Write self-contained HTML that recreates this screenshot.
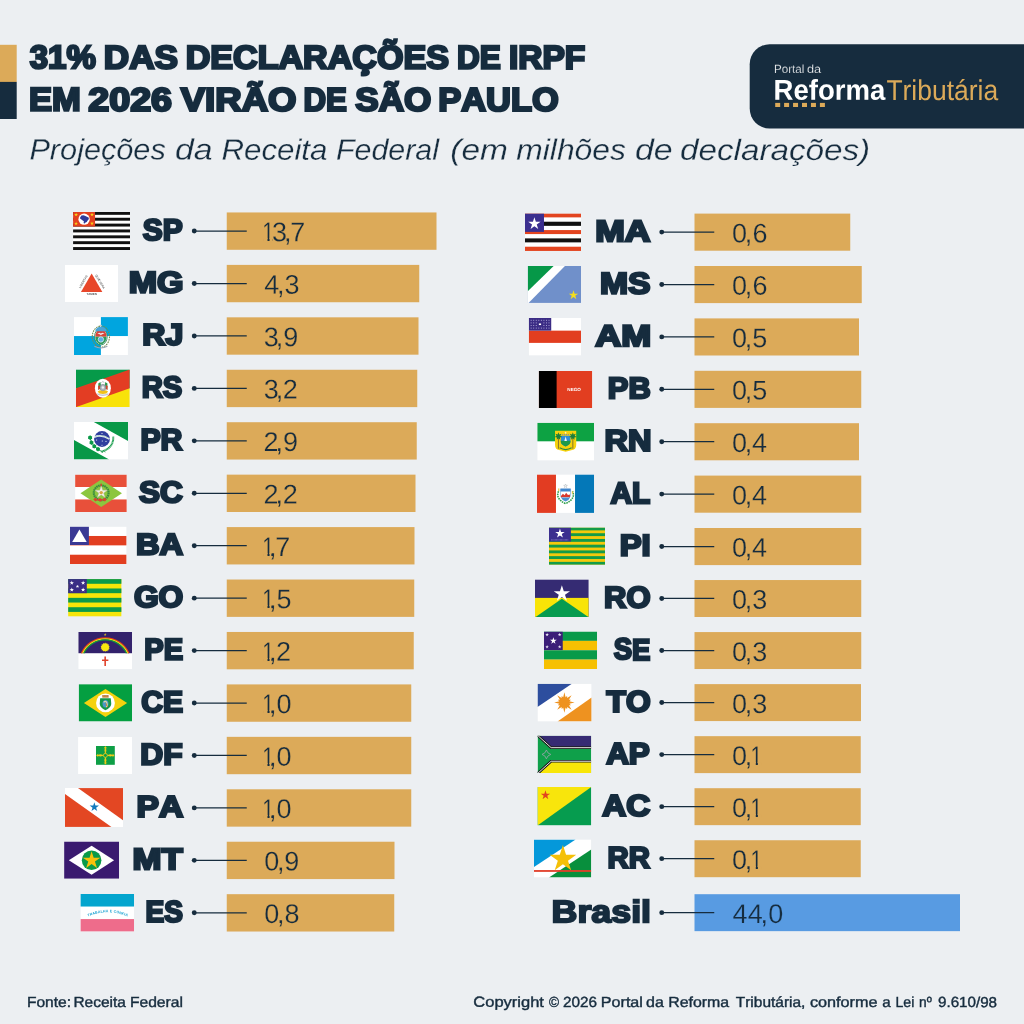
<!DOCTYPE html>
<html lang="pt-BR">
<head>
<meta charset="utf-8">
<title>31% das declarações de IRPF em 2026 virão de São Paulo</title>
<style>
html,body{margin:0;padding:0;background:#ECEFF2;}
body{width:1024px;height:1024px;overflow:hidden;}
svg{display:block;}
text{font-family:"Liberation Sans",sans-serif;font-kerning:none;text-rendering:geometricPrecision;}
.hv{font-weight:700;fill:#162C3E;stroke:#162C3E;stroke-linejoin:miter;stroke-miterlimit:2.5;}
.ttl{font-size:32.7px;stroke-width:2.4px;}
.lab{font-size:29.8px;stroke-width:2.4px;}
.num{fill:#162C3E;font-size:27px;stroke-width:0.25px;}
.sub{font-style:italic;font-size:29.3px;fill:#162C3E;stroke:#ECEFF2;stroke-width:0.25px;}
.lg1{font-size:11.9px;fill:#fff;stroke:#162C3E;stroke-width:0.25px;}
.lg2{font-size:28.6px;font-weight:700;fill:#fff;}
.lg3{font-size:28.6px;fill:#DCAA59;}
.ftr{font-size:14.6px;fill:#162C3E;stroke:#162C3E;stroke-width:0.4px;}
</style>
</head>
<body>
<svg width="1024" height="1024" viewBox="0 0 1024 1024">
<rect x="0" y="0" width="1024" height="1024" fill="#ECEFF2"/>
<rect x="0" y="44.8" width="16.7" height="37.2" fill="#DCAA59"/><rect x="0" y="81.9" width="16.7" height="37.1" fill="#162C3E"/>
<text class="hv ttl" y="68.5" transform="rotate(0.03 307.25 68.5)"><tspan x="29.74" textLength="66.13" lengthAdjust="spacingAndGlyphs">31%</tspan> <tspan x="103.85" textLength="74.12" lengthAdjust="spacingAndGlyphs">DAS</tspan> <tspan x="185.72" textLength="263.21" lengthAdjust="spacingAndGlyphs">DECLARAÇÕES</tspan> <tspan x="456.89" textLength="43.84" lengthAdjust="spacingAndGlyphs">DE</tspan> <tspan x="508.96" textLength="76.27" lengthAdjust="spacingAndGlyphs">IRPF</tspan></text>
<text class="hv ttl" y="110.75" transform="rotate(0.03 294.22 110.75)"><tspan x="28.94" textLength="51.77" lengthAdjust="spacingAndGlyphs">EM</tspan> <tspan x="88.3" textLength="83.66" lengthAdjust="spacingAndGlyphs">2026</tspan> <tspan x="180.75" textLength="115.68" lengthAdjust="spacingAndGlyphs">VIRÃO</tspan> <tspan x="303.51" textLength="43.41" lengthAdjust="spacingAndGlyphs">DE</tspan> <tspan x="355.39" textLength="75.93" lengthAdjust="spacingAndGlyphs">SÃO</tspan> <tspan x="438.25" textLength="120.4" lengthAdjust="spacingAndGlyphs">PAULO</tspan></text>
<text class="sub" y="159.75" transform="rotate(0.03 449.25 159.75)"><tspan x="29.43" textLength="136.32" lengthAdjust="spacingAndGlyphs">Projeções</tspan> <tspan x="174.99" textLength="37.54" lengthAdjust="spacingAndGlyphs">da</tspan> <tspan x="221.41" textLength="106.03" lengthAdjust="spacingAndGlyphs">Receita</tspan> <tspan x="335.94" textLength="103" lengthAdjust="spacingAndGlyphs">Federal</tspan> <tspan x="450.31" textLength="57.62" lengthAdjust="spacingAndGlyphs">(em</tspan> <tspan x="516.35" textLength="109.43" lengthAdjust="spacingAndGlyphs">milhões</tspan> <tspan x="634.98" textLength="37.65" lengthAdjust="spacingAndGlyphs">de</tspan> <tspan x="680.01" textLength="190.1" lengthAdjust="spacingAndGlyphs">declarações)</tspan></text>
<path d="M769.7 44.2 H1024 V128.5 H769.7 A20 20 0 0 1 749.7 108.5 V64.2 A20 20 0 0 1 769.7 44.2 Z" fill="#162C3E"/>
<text class="lg1" y="73" transform="rotate(0.03 798.05 73)"><tspan x="774.02" textLength="30.38" lengthAdjust="spacingAndGlyphs">Portal</tspan> <tspan x="806.94" textLength="14.19" lengthAdjust="spacingAndGlyphs">da</tspan></text>
<text class="lg2" y="99.75" transform="rotate(0.03 830.4 99.75)"><tspan x="773.56" textLength="111.67" lengthAdjust="spacingAndGlyphs">Reforma</tspan></text>
<text class="lg3" y="100" transform="rotate(0.03 942.55 100)"><tspan x="886.41" textLength="111.69" lengthAdjust="spacingAndGlyphs">Tributária</tspan></text>
<g fill="#DCAA59"><rect x="775.2" y="102.9" width="5" height="4.1"/><rect x="784.1" y="102.9" width="5" height="4.1"/><rect x="793.05" y="102.9" width="5" height="4.1"/><rect x="802" y="102.9" width="5" height="4.1"/><rect x="810.95" y="102.9" width="5" height="4.1"/><rect x="819.9" y="102.9" width="5" height="4.1"/></g>
<g>
<rect x="226.75" y="212.45" width="209.75" height="37.35" fill="#DCAA59"/>
<path d="M194.25 231.07 H246.75" stroke="#162C3E" stroke-width="1.25" fill="none"/><circle cx="194.25" cy="231.07" r="2.45" fill="#162C3E"/>
<svg x="73.1" y="211.9" width="57" height="38.1" viewBox="0 0 57 38.1" overflow="hidden"><rect x="0" y="0" width="57" height="38.1" fill="#fff"/><rect x="0" y="0" width="57" height="2.93" fill="#111"/><rect x="0" y="5.86" width="57" height="2.93" fill="#111"/><rect x="0" y="11.72" width="57" height="2.93" fill="#111"/><rect x="0" y="17.58" width="57" height="2.93" fill="#111"/><rect x="0" y="23.45" width="57" height="2.93" fill="#111"/><rect x="0" y="29.31" width="57" height="2.93" fill="#111"/><rect x="0" y="35.17" width="57" height="2.93" fill="#111"/><rect x="0" y="0" width="21.95" height="14.65" fill="#E2401F"/><circle cx="11" cy="7.25" r="5.65" fill="#fff"/><polygon points="7.06,5.5 8.3,3.6 10.2,3.3 11.75,3.9 13.3,4.55 15.5,5.5 15.8,7.06 14.55,8.6 13.6,10.2 12.05,10.8 11.1,11.9 10.5,10.8 10.8,9.25 9.25,8.3 7.7,7.06 6.75,6.4" fill="#2E3A9A"/><polygon points="3,0.8 3.45,2.18 4.9,2.18 3.73,3.04 4.18,4.42 3,3.56 1.82,4.42 2.27,3.04 1.1,2.18 2.55,2.18" fill="#F7D417"/><polygon points="18.9,0.8 19.35,2.18 20.8,2.18 19.63,3.04 20.08,4.42 18.9,3.56 17.72,4.42 18.17,3.04 17,2.18 18.45,2.18" fill="#F7D417"/><polygon points="3,9.7 3.45,11.08 4.9,11.08 3.73,11.94 4.18,13.32 3,12.46 1.82,13.32 2.27,11.94 1.1,11.08 2.55,11.08" fill="#F7D417"/><polygon points="18.9,9.5 19.35,10.88 20.8,10.88 19.63,11.74 20.08,13.12 18.9,12.26 17.72,13.12 18.17,11.74 17,10.88 18.45,10.88" fill="#F7D417"/></svg>
<text class="hv lab" y="240" transform="rotate(0.03 162.6 240)"><tspan x="142.74" textLength="39.88" lengthAdjust="spacingAndGlyphs">SP</tspan></text>
<text class="num" y="241.25" stroke="#DCAA59" transform="rotate(0.03 279.8 241.25)"><tspan x="262.29" textLength="11.71" lengthAdjust="spacingAndGlyphs">1</tspan><tspan x="271.92">3</tspan><tspan x="283.92">,</tspan><tspan x="290.27">7</tspan></text><rect x="263.2" y="238.53" width="4.29" height="3.62" fill="#DCAA59"/><rect x="269.55" y="238.53" width="3.2" height="3.62" fill="#DCAA59"/>
</g>
<g>
<rect x="226.75" y="264.89" width="192.5" height="37.35" fill="#DCAA59"/>
<path d="M194.25 283.51 H246.75" stroke="#162C3E" stroke-width="1.25" fill="none"/><circle cx="194.25" cy="283.51" r="2.45" fill="#162C3E"/>
<svg x="65" y="265" width="53.1" height="37.1" viewBox="0 0 53.1 37.1" overflow="hidden"><rect x="0" y="0" width="53.1" height="37.1" fill="#fff"/><polygon points="26.65,8.6 15.95,27 37.35,27" fill="#E8472A"/><text transform="translate(19.05,17.2) rotate(-60)" font-family="Liberation Sans, sans-serif" font-size="2.9" font-weight="700" fill="#666" text-anchor="middle">LIBERTAS</text><text transform="translate(34.25,17.2) rotate(60)" font-family="Liberation Sans, sans-serif" font-size="2.9" font-weight="700" fill="#666" text-anchor="middle">QUÆ SERA</text><text x="26.65" y="30.2" font-family="Liberation Sans, sans-serif" font-size="2.9" font-weight="700" fill="#555" text-anchor="middle">TAMEN</text></svg>
<text class="hv lab" y="292.5" transform="rotate(0.03 156.2 292.5)"><tspan x="128.72" textLength="54.78" lengthAdjust="spacingAndGlyphs">MG</tspan></text>
<text class="num" y="293.75" stroke="#DCAA59" transform="rotate(0.03 279.8 293.75)"><tspan x="264.18">4</tspan><tspan x="277.07">,</tspan><tspan x="284.57">3</tspan></text>
</g>
<g>
<rect x="226.75" y="317.33" width="191.75" height="37.35" fill="#DCAA59"/>
<path d="M194.25 335.95 H246.75" stroke="#162C3E" stroke-width="1.25" fill="none"/><circle cx="194.25" cy="335.95" r="2.45" fill="#162C3E"/>
<svg x="73.9" y="317.1" width="54" height="37.9" viewBox="0 0 54 37.9" overflow="hidden"><rect x="0" y="0" width="54" height="37.9" fill="#fff"/><rect x="27" y="0" width="27" height="18.95" fill="#00A5DF"/><rect x="0" y="18.95" width="27" height="18.95" fill="#00A5DF"/><ellipse cx="27" cy="19.55" rx="8.6" ry="10.6" fill="none" stroke="#6F8F4E" stroke-width="1.1" stroke-dasharray="1.6 0.9"/><ellipse cx="27" cy="19.55" rx="6.3" ry="8.3" fill="#fff" stroke="#2E8B57" stroke-width="0.9"/><path d="M21.4 19.55 a5.6 7.6 0 0 1 11.2 0 z" fill="#D9453A"/><path d="M21.4 19.55 a5.6 7.6 0 0 1 11.2 0 z" fill="#4AA3D6" transform="translate(0,-2.4) scale(1,0.62)" transform-origin="27 11.95"/><path d="M21.4 19.55 a5.6 7.6 0 0 0 11.2 0 z" fill="#2F9A5B"/><circle cx="27" cy="22.35" r="2.7" fill="#5DB0E6" stroke="#fff" stroke-width="0.6"/><path d="M23.4 16.75 l2.2 -1.2 l1.4 0.9 l1.4 -0.9 l2.2 1.2 l-2.4 0.4 l-1.2 1 l-1.2 -1 z" fill="#E9EEF2"/><polygon points="27,6.75 27.36,7.86 28.52,7.86 27.58,8.54 27.94,9.64 27,8.96 26.06,9.64 26.42,8.54 25.48,7.86 26.64,7.86" fill="#C8CDD2"/><path d="M20.5 29.15 q6.5 3.4 13 0" fill="none" stroke="#9AA7B8" stroke-width="1.1"/></svg>
<text class="hv lab" y="344.75" transform="rotate(0.03 162.8 344.75)"><tspan x="142.3" textLength="41.04" lengthAdjust="spacingAndGlyphs">RJ</tspan></text>
<text class="num" y="346.25" stroke="#DCAA59" transform="rotate(0.03 279.8 346.25)"><tspan x="263.77">3</tspan><tspan x="275.77">,</tspan><tspan x="283.13">9</tspan></text>
</g>
<g>
<rect x="226.75" y="369.77" width="190.5" height="37.35" fill="#DCAA59"/>
<path d="M194.25 388.39 H246.75" stroke="#162C3E" stroke-width="1.25" fill="none"/><circle cx="194.25" cy="388.39" r="2.45" fill="#162C3E"/>
<svg x="76" y="369.4" width="53.75" height="37.7" viewBox="0 0 53.75 37.7" overflow="hidden"><rect x="0" y="0" width="53.75" height="18.95" fill="#069A49"/><rect x="0" y="18.85" width="53.75" height="18.85" fill="#F8E20A"/><polygon points="0,18.85 53.75,0 53.75,18.85 0,37.7" fill="#E33D23"/><ellipse cx="26.88" cy="18.85" rx="8" ry="9.4" fill="#fff"/><polygon points="22.27,14.05 24.48,12.65 25.27,17.85 22.48,20.25" fill="#2E9A4E"/><polygon points="31.48,14.05 29.27,12.65 28.48,17.85 31.27,20.25" fill="#2E9A4E"/><polygon points="22.07,16.65 23.68,15.85 24.27,19.45 22.27,20.65" fill="#D8402A"/><polygon points="31.68,16.65 30.07,15.85 29.48,19.45 31.48,20.65" fill="#D8402A"/><ellipse cx="26.88" cy="18.25" rx="2.9" ry="3.3" fill="#AEB4BC" stroke="#6E7680" stroke-width="0.5"/><circle cx="26.88" cy="18.05" r="1.2" fill="#F0F2F4"/><path d="M21.68 22.05 l2.2 -1.2 l3 0.8 l3 -0.8 l2.2 1.2 l-1.6 2 l-3.6 0.6 l-3.6 -0.6 z" fill="#F2C21C"/><path d="M21.27 24.45 q5.6 2.8 11.2 0" fill="none" stroke="#C3C9D2" stroke-width="1.5"/><path d="M25.27 13.45 l1.6 -1.4 l1.6 1.4" fill="none" stroke="#8C939B" stroke-width="0.6"/></svg>
<text class="hv lab" y="397.25" transform="rotate(0.03 162.43 397.25)"><tspan x="141.75" textLength="40.54" lengthAdjust="spacingAndGlyphs">RS</tspan></text>
<text class="num" y="398.5" stroke="#DCAA59" transform="rotate(0.03 279.8 398.5)"><tspan x="263.77">3</tspan><tspan x="275.77">,</tspan><tspan x="282.84">2</tspan></text>
</g>
<g>
<rect x="226.75" y="422.21" width="190" height="37.35" fill="#DCAA59"/>
<path d="M194.25 440.83 H246.75" stroke="#162C3E" stroke-width="1.25" fill="none"/><circle cx="194.25" cy="440.83" r="2.45" fill="#162C3E"/>
<svg x="74" y="422" width="54.05" height="37.6" viewBox="0 0 54.05 37.6" overflow="hidden"><rect x="0" y="0" width="54.05" height="37.6" fill="#fff"/><polygon points="19.84,0 54.05,0 54.05,18.99" fill="#089847"/><polygon points="0,18.12 0,37.6 35.13,37.6" fill="#089847"/><path d="M16.1 15.9 L17.6 20.7 L20.4 24.3 L24.1 27.2 L27.6 29.6" fill="none" stroke="#089847" stroke-width="0.9"/><polygon points="16.1,13.2 17.06,13.94 18.18,14.4 18.02,15.6 18.18,16.8 17.06,17.26 16.1,18 15.14,17.26 14.02,16.8 14.18,15.6 14.02,14.4 15.14,13.94" fill="#089847"/><polygon points="17.5,18.3 18.42,19.01 19.49,19.45 19.34,20.6 19.49,21.75 18.42,22.19 17.5,22.9 16.58,22.19 15.51,21.75 15.66,20.6 15.51,19.45 16.58,19.01" fill="#089847"/><polygon points="20.3,22 21.22,22.71 22.29,23.15 22.14,24.3 22.29,25.45 21.22,25.89 20.3,26.6 19.38,25.89 18.31,25.45 18.46,24.3 18.31,23.15 19.38,22.71" fill="#089847"/><polygon points="24,24.8 24.92,25.51 25.99,25.95 25.84,27.1 25.99,28.25 24.92,28.69 24,29.4 23.08,28.69 22.01,28.25 22.16,27.1 22.01,25.95 23.08,25.51" fill="#089847"/><path d="M39.2 14.6 Q40 25.6 27.4 29.8" fill="none" stroke="#22A053" stroke-width="2.0" stroke-dasharray="1.2 0.3"/><path d="M27.2 28.6 l1.2 2.4 M29.6 28.4 l1.6 2" fill="none" stroke="#2FA65A" stroke-width="0.7"/><circle cx="28" cy="17" r="7.95" fill="#2F3F9E"/><path d="M20.1 15.1 q7.6 -3.2 15.4 2.0" fill="none" stroke="#EEF1F7" stroke-width="1.7"/><path d="M21.2 15 q7.2 -3.0 13.6 1.6" fill="none" stroke="#3B9A5E" stroke-width="0.5" stroke-dasharray="0.9 0.5"/><polygon points="28,10.4 28.22,11.09 28.95,11.09 28.36,11.52 28.59,12.21 28,11.78 27.41,12.21 27.64,11.52 27.05,11.09 27.78,11.09" fill="#DDE3F3"/><polygon points="22.6,17 22.82,17.69 23.55,17.69 22.96,18.12 23.19,18.81 22.6,18.38 22.01,18.81 22.24,18.12 21.65,17.69 22.38,17.69" fill="#DDE3F3"/><polygon points="28.3,18 28.52,18.69 29.25,18.69 28.66,19.12 28.89,19.81 28.3,19.38 27.71,19.81 27.94,19.12 27.35,18.69 28.08,18.69" fill="#DDE3F3"/><polygon points="32,18.4 32.22,19.09 32.95,19.09 32.36,19.52 32.59,20.21 32,19.78 31.41,20.21 31.64,19.52 31.05,19.09 31.78,19.09" fill="#DDE3F3"/><polygon points="28,22.2 28.22,22.89 28.95,22.89 28.36,23.32 28.59,24.01 28,23.58 27.41,24.01 27.64,23.32 27.05,22.89 27.78,22.89" fill="#DDE3F3"/></svg>
<text class="hv lab" y="449.75" transform="rotate(0.03 162.18 449.75)"><tspan x="140.42" textLength="42.1" lengthAdjust="spacingAndGlyphs">PR</tspan></text>
<text class="num" y="451" stroke="#DCAA59" transform="rotate(0.03 279.8 451)"><tspan x="263.44">2</tspan><tspan x="275.57">,</tspan><tspan x="282.93">9</tspan></text>
</g>
<g>
<rect x="226.75" y="474.65" width="188.75" height="37.35" fill="#DCAA59"/>
<path d="M194.25 493.27 H246.75" stroke="#162C3E" stroke-width="1.25" fill="none"/><circle cx="194.25" cy="493.27" r="2.45" fill="#162C3E"/>
<svg x="75.1" y="474.55" width="51.7" height="37.35" viewBox="0 0 51.7 37.35" overflow="hidden"><rect x="0" y="0" width="51.7" height="37.35" fill="#fff"/><rect x="0" y="0" width="51.7" height="12.45" fill="#E8503A"/><rect x="0" y="24.9" width="51.7" height="12.55" fill="#E8503A"/><polygon points="5.38,18.67 26.11,4.97 46.84,18.67 26.11,32.57" fill="#8CC63F"/><circle cx="26.11" cy="18.27" r="7.4" fill="none" stroke="#3A8C40" stroke-width="2.2" stroke-dasharray="1.6 0.5"/><polygon points="26.11,11.07 27.59,15.64 32.39,15.64 28.51,18.45 29.99,23.01 26.11,20.2 22.23,23.01 23.71,18.45 19.83,15.64 24.63,15.64" fill="#F4F1EA"/><polygon points="26.11,11.07 27.59,15.64 32.39,15.64 28.51,18.45 29.99,23.01 26.11,20.2 22.23,23.01 23.71,18.45 19.83,15.64 24.63,15.64" fill="none" stroke="#B9B3A5" stroke-width="0.4"/><circle cx="26.11" cy="18.07" r="1.7" fill="#D9A441"/><path d="M18.11 24.67 l2.4 -1.4 l2 1.6 l2.4 -1.4 l2.4 1.4 l2 -1.6 l2.4 1.4 l-1.8 2.2 l-2.4 -1.2 l-2.4 1.6 l-2.6 -1.6 l-2.4 1.2 z" fill="#D8452F"/><rect x="25.41" y="9.07" width="1.4" height="2.6" fill="#D8452F"/></svg>
<text class="hv lab" y="502.25" transform="rotate(0.03 160.93 502.25)"><tspan x="139.04" textLength="43.72" lengthAdjust="spacingAndGlyphs">SC</tspan></text>
<text class="num" y="503.5" stroke="#DCAA59" transform="rotate(0.03 279.8 503.5)"><tspan x="263.44">2</tspan><tspan x="275.57">,</tspan><tspan x="282.64">2</tspan></text>
</g>
<g>
<rect x="226.75" y="527.09" width="187.75" height="37.35" fill="#DCAA59"/>
<path d="M194.25 545.71 H246.75" stroke="#162C3E" stroke-width="1.25" fill="none"/><circle cx="194.25" cy="545.71" r="2.45" fill="#162C3E"/>
<svg x="70" y="526.6" width="56.6" height="37.5" viewBox="0 0 56.6 37.5" overflow="hidden"><rect x="0" y="0" width="56.6" height="37.5" fill="#fff"/><rect x="0" y="9.38" width="56.6" height="9.38" fill="#E23E20"/><rect x="0" y="28.12" width="56.6" height="9.47" fill="#E23E20"/><rect x="0" y="0" width="18.9" height="18.38" fill="#3A3994"/><polygon points="9.45,2.8 2.2,15.3 16.7,15.3" fill="#fff"/></svg>
<text class="hv lab" y="554.5" transform="rotate(0.03 160.3 554.5)"><tspan x="136.01" textLength="47.25" lengthAdjust="spacingAndGlyphs">BA</tspan></text>
<text class="num" y="556" stroke="#DCAA59" transform="rotate(0.03 279.8 556)"><tspan x="262.29" textLength="11.71" lengthAdjust="spacingAndGlyphs">1</tspan><tspan x="268.92">,</tspan><tspan x="275.27">7</tspan></text><rect x="263.2" y="553.28" width="4.29" height="3.62" fill="#DCAA59"/><rect x="269.55" y="553.28" width="1.6" height="3.62" fill="#DCAA59"/>
</g>
<g>
<rect x="226.75" y="579.53" width="187.5" height="37.35" fill="#DCAA59"/>
<path d="M194.25 598.15 H246.75" stroke="#162C3E" stroke-width="1.25" fill="none"/><circle cx="194.25" cy="598.15" r="2.45" fill="#162C3E"/>
<svg x="68.1" y="579.1" width="53.5" height="37.5" viewBox="0 0 53.5 37.5" overflow="hidden"><rect x="0" y="0" width="53.5" height="37.5" fill="#F6E509"/><rect x="0" y="0" width="53.5" height="4.69" fill="#0B9A4A"/><rect x="0" y="9.38" width="53.5" height="4.69" fill="#0B9A4A"/><rect x="0" y="18.75" width="53.5" height="4.69" fill="#0B9A4A"/><rect x="0" y="28.12" width="53.5" height="4.69" fill="#0B9A4A"/><rect x="0" y="0" width="18.72" height="14.06" fill="#3A2D85"/><polygon points="3.7,1.5 4.22,3.09 5.89,3.09 4.54,4.07 5.05,5.66 3.7,4.68 2.35,5.66 2.86,4.07 1.51,3.09 3.18,3.09" fill="#fff"/><polygon points="15.02,1.5 15.54,3.09 17.21,3.09 15.86,4.07 16.38,5.66 15.02,4.68 13.67,5.66 14.19,4.07 12.84,3.09 14.51,3.09" fill="#fff"/><polygon points="9.36,5.53 9.77,6.77 11.07,6.78 10.02,7.54 10.42,8.79 9.36,8.02 8.3,8.79 8.71,7.54 7.65,6.78 8.96,6.77" fill="#fff"/><polygon points="3.7,8.36 4.22,9.95 5.89,9.95 4.54,10.93 5.05,12.52 3.7,11.54 2.35,12.52 2.86,10.93 1.51,9.95 3.18,9.95" fill="#fff"/><polygon points="15.02,8.36 15.54,9.95 17.21,9.95 15.86,10.93 16.38,12.52 15.02,11.54 13.67,12.52 14.19,10.93 12.84,9.95 14.51,9.95" fill="#fff"/></svg>
<text class="hv lab" y="607" transform="rotate(0.03 158.55 607)"><tspan x="133.9" textLength="49.33" lengthAdjust="spacingAndGlyphs">GO</tspan></text>
<text class="num" y="608.25" stroke="#DCAA59" transform="rotate(0.03 279.8 608.25)"><tspan x="262.29" textLength="11.71" lengthAdjust="spacingAndGlyphs">1</tspan><tspan x="268.92">,</tspan><tspan x="276.47">5</tspan></text><rect x="263.2" y="605.53" width="4.29" height="3.62" fill="#DCAA59"/><rect x="269.55" y="605.53" width="1.6" height="3.62" fill="#DCAA59"/>
</g>
<g>
<rect x="226.75" y="631.97" width="187" height="37.35" fill="#DCAA59"/>
<path d="M194.25 650.6 H246.75" stroke="#162C3E" stroke-width="1.25" fill="none"/><circle cx="194.25" cy="650.6" r="2.45" fill="#162C3E"/>
<svg x="78.27" y="632" width="53.79" height="37.35" viewBox="0 0 53.79 37.35" overflow="hidden"><rect x="0" y="0" width="53.79" height="37.35" fill="#fff"/><rect x="0" y="0" width="53.79" height="21.21" fill="#33226C"/><path d="M3.16 21.21 A25.95 25.95 0 0 1 50.63 21.21" fill="none" stroke="#E5391C" stroke-width="1.25"/><path d="M4.37 21.21 A24.85 24.85 0 0 1 49.42 21.21" fill="none" stroke="#F6E010" stroke-width="1.25"/><path d="M5.59 21.21 A23.75 23.75 0 0 1 48.2 21.21" fill="none" stroke="#12963F" stroke-width="1.25"/><polygon points="26.9,10.6 27.71,11.73 28.93,11.07 29.18,12.43 30.57,12.37 30.2,13.71 31.48,14.25 30.56,15.3 31.48,16.35 30.2,16.89 30.57,18.23 29.18,18.17 28.93,19.53 27.71,18.87 26.9,20 26.08,18.87 24.86,19.53 24.61,18.17 23.22,18.23 23.59,16.89 22.31,16.35 23.23,15.3 22.31,14.25 23.59,13.71 23.22,12.37 24.61,12.43 24.86,11.07 26.08,11.73" fill="#EEDB1A"/><circle cx="26.9" cy="15.3" r="3.6" fill="#F8E80E"/><polygon points="26.9,1.1 27.23,2.14 28.32,2.14 27.44,2.78 27.78,3.81 26.9,3.17 26.01,3.81 26.35,2.78 25.47,2.14 26.56,2.14" fill="#E9CF1D"/><path d="M26.9 24.6 V34 M23.7 28.3 H30.1" stroke="#E0432C" stroke-width="1.6" fill="none"/></svg>
<text class="hv lab" y="659.5" transform="rotate(0.03 164.05 659.5)"><tspan x="144.26" textLength="38.78" lengthAdjust="spacingAndGlyphs">PE</tspan></text>
<text class="num" y="660.75" stroke="#DCAA59" transform="rotate(0.03 279.8 660.75)"><tspan x="262.29" textLength="11.71" lengthAdjust="spacingAndGlyphs">1</tspan><tspan x="268.92">,</tspan><tspan x="275.99">2</tspan></text><rect x="263.2" y="658.03" width="4.29" height="3.62" fill="#DCAA59"/><rect x="269.55" y="658.03" width="1.6" height="3.62" fill="#DCAA59"/>
</g>
<g>
<rect x="226.75" y="684.41" width="184.5" height="37.35" fill="#DCAA59"/>
<path d="M194.25 703.03 H246.75" stroke="#162C3E" stroke-width="1.25" fill="none"/><circle cx="194.25" cy="703.03" r="2.45" fill="#162C3E"/>
<svg x="78.7" y="684.15" width="53.35" height="37.35" viewBox="0 0 53.35 37.35" overflow="hidden"><rect x="0" y="0" width="53.35" height="37.35" fill="#049F41"/><polygon points="5.23,18.75 26.78,4.97 48.39,18.75 26.78,32.76" fill="#F5D20E"/><circle cx="26.78" cy="18.75" r="9.4" fill="#fff"/><path d="M21.48 14.15 h10.6 l0.5 5.6 q-0.6 4 -5.8 6.4 q-5.2 -2.4 -5.8 -6.4 z" fill="#159748"/><ellipse cx="26.78" cy="19.55" rx="3.0" ry="3.7" fill="#4A97C9"/><path d="M24.98 18.15 q2 -2 3.2 0.4 q1 2.4 -0.6 4.4" fill="none" stroke="#E9D9A0" stroke-width="1.1"/><path d="M27.18 19.15 l1 2.8 l1.2 0.8" fill="none" stroke="#B9873A" stroke-width="1"/><rect x="23.58" y="10.95" width="6.4" height="2.6" fill="#C98A4B"/><path d="M23.58 11.75 h6.4" stroke="#7B5A3A" stroke-width="0.5" stroke-dasharray="0.9 0.7"/></svg>
<text class="hv lab" y="712" transform="rotate(0.03 162.18 712)"><tspan x="141.21" textLength="41.86" lengthAdjust="spacingAndGlyphs">CE</tspan></text>
<text class="num" y="713.25" stroke="#DCAA59" transform="rotate(0.03 279.8 713.25)"><tspan x="262.29" textLength="11.71" lengthAdjust="spacingAndGlyphs">1</tspan><tspan x="268.92">,</tspan><tspan x="276.6">0</tspan></text><rect x="263.2" y="710.53" width="4.29" height="3.62" fill="#DCAA59"/><rect x="269.55" y="710.53" width="1.6" height="3.62" fill="#DCAA59"/>
</g>
<g>
<rect x="226.75" y="736.85" width="184.5" height="37.35" fill="#DCAA59"/>
<path d="M194.25 755.47 H246.75" stroke="#162C3E" stroke-width="1.25" fill="none"/><circle cx="194.25" cy="755.47" r="2.45" fill="#162C3E"/>
<svg x="78.1" y="736.9" width="53.9" height="37.2" viewBox="0 0 53.9 37.2" overflow="hidden"><rect x="0" y="0" width="53.9" height="37.2" fill="#fff"/><rect x="17.9" y="9.1" width="18.8" height="18.8" fill="#0E9F46"/><path d="M27.3 9.8 v17.4 M18.6 18.5 h17.4" stroke="#F3CB18" stroke-width="0.8" fill="none"/><path d="M0 -2.4 q1.6 -2.6 0 -5 q-1.6 2.4 0 5 z M-1.3 -7.2 l1.3 -1.6 l1.3 1.6" fill="#F3CB18" stroke="#F3CB18" stroke-width="0.5" transform="translate(27.3,18.5) rotate(0)"/><path d="M0 -2.4 q1.6 -2.6 0 -5 q-1.6 2.4 0 5 z M-1.3 -7.2 l1.3 -1.6 l1.3 1.6" fill="#F3CB18" stroke="#F3CB18" stroke-width="0.5" transform="translate(27.3,18.5) rotate(90)"/><path d="M0 -2.4 q1.6 -2.6 0 -5 q-1.6 2.4 0 5 z M-1.3 -7.2 l1.3 -1.6 l1.3 1.6" fill="#F3CB18" stroke="#F3CB18" stroke-width="0.5" transform="translate(27.3,18.5) rotate(180)"/><path d="M0 -2.4 q1.6 -2.6 0 -5 q-1.6 2.4 0 5 z M-1.3 -7.2 l1.3 -1.6 l1.3 1.6" fill="#F3CB18" stroke="#F3CB18" stroke-width="0.5" transform="translate(27.3,18.5) rotate(270)"/><circle cx="27.3" cy="18.5" r="2" fill="#0E9F46" stroke="#F3CB18" stroke-width="0.8"/></svg>
<text class="hv lab" y="764.5" transform="rotate(0.03 161.93 764.5)"><tspan x="140.33" textLength="42.23" lengthAdjust="spacingAndGlyphs">DF</tspan></text>
<text class="num" y="765.75" stroke="#DCAA59" transform="rotate(0.03 279.8 765.75)"><tspan x="262.29" textLength="11.71" lengthAdjust="spacingAndGlyphs">1</tspan><tspan x="268.92">,</tspan><tspan x="276.6">0</tspan></text><rect x="263.2" y="763.03" width="4.29" height="3.62" fill="#DCAA59"/><rect x="269.55" y="763.03" width="1.6" height="3.62" fill="#DCAA59"/>
</g>
<g>
<rect x="226.75" y="789.29" width="184.5" height="37.35" fill="#DCAA59"/>
<path d="M194.25 807.91 H246.75" stroke="#162C3E" stroke-width="1.25" fill="none"/><circle cx="194.25" cy="807.91" r="2.45" fill="#162C3E"/>
<svg x="65" y="788.1" width="58.1" height="38.8" viewBox="0 0 58.1 38.8" overflow="hidden"><rect x="0" y="0" width="58.1" height="38.8" fill="#E34723"/><polygon points="0,0 12.96,0 58.1,32.2 58.1,38.8 46.48,38.8 0,5.98" fill="#fff"/><polygon points="29.34,14.11 30.44,17.5 34,17.5 31.12,19.59 32.22,22.98 29.34,20.88 26.46,22.98 27.56,19.59 24.68,17.5 28.24,17.5" fill="#1279BD"/></svg>
<text class="hv lab" y="816.75" transform="rotate(0.03 160.55 816.75)"><tspan x="136.44" textLength="46.84" lengthAdjust="spacingAndGlyphs">PA</tspan></text>
<text class="num" y="818" stroke="#DCAA59" transform="rotate(0.03 279.8 818)"><tspan x="262.29" textLength="11.71" lengthAdjust="spacingAndGlyphs">1</tspan><tspan x="268.92">,</tspan><tspan x="276.6">0</tspan></text><rect x="263.2" y="815.28" width="4.29" height="3.62" fill="#DCAA59"/><rect x="269.55" y="815.28" width="1.6" height="3.62" fill="#DCAA59"/>
</g>
<g>
<rect x="226.75" y="841.73" width="167.75" height="37.35" fill="#DCAA59"/>
<path d="M194.25 860.36 H246.75" stroke="#162C3E" stroke-width="1.25" fill="none"/><circle cx="194.25" cy="860.36" r="2.45" fill="#162C3E"/>
<svg x="64.1" y="841.5" width="55" height="37.25" viewBox="0 0 55 37.25" overflow="hidden"><rect x="0" y="0" width="55" height="37.25" fill="#3A1A6F"/><polygon points="4.73,18.74 27.5,4.13 50,18.74 27.5,33.26" fill="#fff"/><circle cx="27.5" cy="18.74" r="9.8" fill="#0A9A48"/><polygon points="27.5,9.84 29.57,16.19 36.25,16.19 30.84,20.12 32.91,26.48 27.5,22.55 22.09,26.48 24.16,20.12 18.75,16.19 25.43,16.19" fill="#F6C10B"/></svg>
<text class="hv lab" y="869.25" transform="rotate(0.03 158.68 869.25)"><tspan x="132.63" textLength="50.15" lengthAdjust="spacingAndGlyphs">MT</tspan></text>
<text class="num" y="870.5" stroke="#DCAA59" transform="rotate(0.03 280.4 870.5)"><tspan x="264.35">0</tspan><tspan x="276.97">,</tspan><tspan x="284.33">9</tspan></text>
</g>
<g>
<rect x="226.75" y="894.17" width="167.5" height="37.35" fill="#DCAA59"/>
<path d="M194.25 912.8 H246.75" stroke="#162C3E" stroke-width="1.25" fill="none"/><circle cx="194.25" cy="912.8" r="2.45" fill="#162C3E"/>
<svg x="80.4" y="894" width="53.7" height="37.6" viewBox="0 0 53.7 37.6" overflow="hidden"><rect x="0" y="0" width="53.7" height="37.6" fill="#fff"/><rect x="0" y="0" width="53.7" height="12.53" fill="#04A5CE"/><rect x="0" y="25.07" width="53.7" height="12.63" fill="#EE6C8B"/><path id="esarc" d="M6.98 22.94 Q26.85 13.54 47.79 22.94" fill="none"/><text font-family="Liberation Sans, sans-serif" font-size="3.6" font-weight="700" fill="#1BA3D2" letter-spacing="0.15"><textPath href="#esarc" startOffset="50%" text-anchor="middle">TRABALHA E CONFIA</textPath></text></svg>
<text class="hv lab" y="921.75" transform="rotate(0.03 164.68 921.75)"><tspan x="145.57" textLength="37.42" lengthAdjust="spacingAndGlyphs">ES</tspan></text>
<text class="num" y="923" stroke="#DCAA59" transform="rotate(0.03 280.4 923)"><tspan x="264.35">0</tspan><tspan x="276.97">,</tspan><tspan x="284.43">8</tspan></text>
</g>
<g>
<rect x="694.5" y="213.6" width="155.75" height="37.1" fill="#DCAA59"/>
<path d="M661.75 232.1 H714.25" stroke="#162C3E" stroke-width="1.25" fill="none"/><circle cx="661.75" cy="232.1" r="2.45" fill="#162C3E"/>
<svg x="525" y="213.4" width="56" height="37.5" viewBox="0 0 56 37.5" overflow="hidden"><rect x="0" y="0" width="56" height="4.22" fill="#E34520"/><rect x="0" y="4.17" width="56" height="4.22" fill="#fff"/><rect x="0" y="8.33" width="56" height="4.22" fill="#111"/><rect x="0" y="12.5" width="56" height="4.22" fill="#fff"/><rect x="0" y="16.67" width="56" height="4.22" fill="#E34520"/><rect x="0" y="20.83" width="56" height="4.22" fill="#fff"/><rect x="0" y="25" width="56" height="4.22" fill="#111"/><rect x="0" y="29.17" width="56" height="4.22" fill="#fff"/><rect x="0" y="33.33" width="56" height="4.22" fill="#E34520"/><rect x="0" y="0" width="18.98" height="18.49" fill="#3B2F8F"/><polygon points="9.39,3.84 10.85,8.33 15.57,8.34 11.75,11.11 13.21,15.6 9.39,12.83 5.57,15.6 7.03,11.11 3.21,8.34 7.93,8.33" fill="#fff"/></svg>
<text class="hv lab" y="241.25" transform="rotate(0.03 623.62 241.25)"><tspan x="595.33" textLength="55.16" lengthAdjust="spacingAndGlyphs">MA</tspan></text>
<text class="num" y="242.5" stroke="#DCAA59" transform="rotate(0.03 748.1 242.5)"><tspan x="732.05">0</tspan><tspan x="744.67">,</tspan><tspan x="752.53">6</tspan></text>
</g>
<g>
<rect x="694.5" y="266" width="167.25" height="37.1" fill="#DCAA59"/>
<path d="M661.75 284.5 H714.25" stroke="#162C3E" stroke-width="1.25" fill="none"/><circle cx="661.75" cy="284.5" r="2.45" fill="#162C3E"/>
<svg x="527.75" y="265.9" width="53.25" height="37" viewBox="0 0 53.25 37" overflow="hidden"><rect x="0" y="0" width="53.25" height="37" fill="#7090CA"/><polygon points="0,0 37.27,0 0.8,37 0,37" fill="#fff"/><polygon points="0,0 25.99,0 0,25.38" fill="#069848"/><polygon points="45.74,24.4 46.84,27.79 50.4,27.79 47.52,29.88 48.62,33.27 45.74,31.18 42.86,33.27 43.96,29.88 41.08,27.79 44.64,27.79" fill="#F4DF1A"/></svg>
<text class="hv lab" y="293.5" transform="rotate(0.03 625.65 293.5)"><tspan x="599.95" textLength="50.46" lengthAdjust="spacingAndGlyphs">MS</tspan></text>
<text class="num" y="294.75" stroke="#DCAA59" transform="rotate(0.03 748.1 294.75)"><tspan x="732.05">0</tspan><tspan x="744.67">,</tspan><tspan x="752.53">6</tspan></text>
</g>
<g>
<rect x="694.5" y="318.4" width="164.5" height="37.1" fill="#DCAA59"/>
<path d="M661.75 336.9 H714.25" stroke="#162C3E" stroke-width="1.25" fill="none"/><circle cx="661.75" cy="336.9" r="2.45" fill="#162C3E"/>
<svg x="528.75" y="317.9" width="52.25" height="37.7" viewBox="0 0 52.25 37.7" overflow="hidden"><rect x="0" y="0" width="52.25" height="37.7" fill="#fff"/><rect x="0" y="12.74" width="52.25" height="12.25" fill="#E23E20"/><rect x="0" y="0" width="22.47" height="12.74" fill="#3B2C85"/><rect x="1.95" y="1.95" width="0.9" height="0.9" fill="#B9B4E0"/><rect x="4.5" y="1.95" width="0.9" height="0.9" fill="#B9B4E0"/><rect x="7.05" y="1.95" width="0.9" height="0.9" fill="#B9B4E0"/><rect x="9.6" y="1.95" width="0.9" height="0.9" fill="#B9B4E0"/><rect x="12.15" y="1.95" width="0.9" height="0.9" fill="#B9B4E0"/><rect x="14.7" y="1.95" width="0.9" height="0.9" fill="#B9B4E0"/><rect x="17.25" y="1.95" width="0.9" height="0.9" fill="#B9B4E0"/><rect x="19.8" y="1.95" width="0.9" height="0.9" fill="#B9B4E0"/><rect x="1.95" y="4.55" width="0.9" height="0.9" fill="#B9B4E0"/><rect x="4.5" y="4.55" width="0.9" height="0.9" fill="#B9B4E0"/><rect x="7.05" y="4.55" width="0.9" height="0.9" fill="#B9B4E0"/><rect x="14.7" y="4.55" width="0.9" height="0.9" fill="#B9B4E0"/><rect x="17.25" y="4.55" width="0.9" height="0.9" fill="#B9B4E0"/><rect x="19.8" y="4.55" width="0.9" height="0.9" fill="#B9B4E0"/><rect x="1.95" y="7.15" width="0.9" height="0.9" fill="#B9B4E0"/><rect x="4.5" y="7.15" width="0.9" height="0.9" fill="#B9B4E0"/><rect x="7.05" y="7.15" width="0.9" height="0.9" fill="#B9B4E0"/><rect x="14.7" y="7.15" width="0.9" height="0.9" fill="#B9B4E0"/><rect x="17.25" y="7.15" width="0.9" height="0.9" fill="#B9B4E0"/><rect x="19.8" y="7.15" width="0.9" height="0.9" fill="#B9B4E0"/><rect x="1.95" y="9.75" width="0.9" height="0.9" fill="#B9B4E0"/><rect x="4.5" y="9.75" width="0.9" height="0.9" fill="#B9B4E0"/><rect x="7.05" y="9.75" width="0.9" height="0.9" fill="#B9B4E0"/><rect x="9.6" y="9.75" width="0.9" height="0.9" fill="#B9B4E0"/><rect x="12.15" y="9.75" width="0.9" height="0.9" fill="#B9B4E0"/><rect x="14.7" y="9.75" width="0.9" height="0.9" fill="#B9B4E0"/><rect x="17.25" y="9.75" width="0.9" height="0.9" fill="#B9B4E0"/><rect x="19.8" y="9.75" width="0.9" height="0.9" fill="#B9B4E0"/><rect x="10.13" y="5.57" width="2.2" height="1.6" fill="#fff"/></svg>
<text class="hv lab" y="346" transform="rotate(0.03 622.5 346)"><tspan x="595.3" textLength="55.9" lengthAdjust="spacingAndGlyphs">AM</tspan></text>
<text class="num" y="347.25" stroke="#DCAA59" transform="rotate(0.03 748.1 347.25)"><tspan x="732.05">0</tspan><tspan x="744.67">,</tspan><tspan x="752.22">5</tspan></text>
</g>
<g>
<rect x="694.5" y="370.8" width="166.75" height="37.1" fill="#DCAA59"/>
<path d="M661.75 389.3 H714.25" stroke="#162C3E" stroke-width="1.25" fill="none"/><circle cx="661.75" cy="389.3" r="2.45" fill="#162C3E"/>
<svg x="538.75" y="370.9" width="53.5" height="37.2" viewBox="0 0 53.5 37.2" overflow="hidden"><rect x="0" y="0" width="53.5" height="37.2" fill="#E23E20"/><rect x="0" y="0" width="17.87" height="37.2" fill="#000"/><text x="35.36" y="20.27" font-family="Liberation Sans, sans-serif" font-size="4.5" font-weight="700" fill="#fff" text-anchor="middle" textLength="13.6" lengthAdjust="spacingAndGlyphs">NEGO</text></svg>
<text class="hv lab" y="398.25" transform="rotate(0.03 629.62 398.25)"><tspan x="607.89" textLength="42.81" lengthAdjust="spacingAndGlyphs">PB</tspan></text>
<text class="num" y="399.5" stroke="#DCAA59" transform="rotate(0.03 748.1 399.5)"><tspan x="732.05">0</tspan><tspan x="744.67">,</tspan><tspan x="752.22">5</tspan></text>
</g>
<g>
<rect x="694.5" y="423.2" width="164.5" height="37.1" fill="#DCAA59"/>
<path d="M661.75 441.7 H714.25" stroke="#162C3E" stroke-width="1.25" fill="none"/><circle cx="661.75" cy="441.7" r="2.45" fill="#162C3E"/>
<svg x="537.25" y="422.75" width="56.75" height="37.85" viewBox="0 0 56.75 37.85" overflow="hidden"><rect x="0" y="0" width="56.75" height="37.85" fill="#fff"/><rect x="0" y="0" width="56.75" height="18.55" fill="#0DA243"/><path d="M17.77 7.9 h21.2 v14 q0 4.4 -4 5.4 l-6.6 1.6 l-6.6 -1.6 q-4 -1 -4 -5.4 z" fill="#F6D20C"/><path d="M23.57 12.9 h9.6 v6.4 q-0.4 3 -4.8 4.4 q-4.4 -1.4 -4.8 -4.4 z" fill="#2E8FD8"/><path d="M23.57 17.9 h9.6 v1.4 q-0.4 3 -4.8 4.4 q-4.4 -1.4 -4.8 -4.4 z" fill="#1C9A4A"/><polygon points="28.38,13.7 27.07,18.3 29.68,18.3" fill="#F2F4F6"/><path d="M21.18 13.5 v12.5" stroke="#7A6A2A" stroke-width="0.9"/><polygon points="21.18,9.6 22.02,11.74 24.22,11.07 23.08,13.07 24.98,14.37 22.7,14.72 22.87,17.01 21.18,15.45 19.48,17.01 19.65,14.72 17.37,14.37 19.27,13.07 18.13,11.07 20.33,11.74" fill="#1B7F3B"/><path d="M35.58 13.5 v12.5" stroke="#7A6A2A" stroke-width="0.9"/><polygon points="35.58,9.6 36.42,11.74 38.62,11.07 37.48,13.07 39.38,14.37 37.1,14.72 37.27,17.01 35.58,15.45 33.88,17.01 34.05,14.72 31.77,14.37 33.67,13.07 32.53,11.07 34.73,11.74" fill="#1B7F3B"/><path d="M24.88 11.9 h7" stroke="#8A8F98" stroke-width="1.3" stroke-dasharray="1.1 0.8"/><polygon points="28.38,8.8 28.67,9.7 29.61,9.7 28.85,10.25 29.14,11.15 28.38,10.6 27.61,11.15 27.9,10.25 27.14,9.7 28.08,9.7" fill="#fff"/><path d="M22.38 25.1 q6 3.4 12 0" fill="none" stroke="#2F8A3E" stroke-width="1.2"/></svg>
<text class="hv lab" y="450.75" transform="rotate(0.03 628 450.75)"><tspan x="604.52" textLength="46.97" lengthAdjust="spacingAndGlyphs">RN</tspan></text>
<text class="num" y="452" stroke="#DCAA59" transform="rotate(0.03 748.1 452)"><tspan x="732.05">0</tspan><tspan x="744.67">,</tspan><tspan x="752.08">4</tspan></text>
</g>
<g>
<rect x="694.5" y="475.6" width="166.75" height="37.1" fill="#DCAA59"/>
<path d="M661.75 494.1 H714.25" stroke="#162C3E" stroke-width="1.25" fill="none"/><circle cx="661.75" cy="494.1" r="2.45" fill="#162C3E"/>
<svg x="537" y="474.4" width="57.1" height="38.5" viewBox="0 0 57.1 38.5" overflow="hidden"><rect x="0" y="0" width="57.1" height="38.5" fill="#fff"/><rect x="0" y="0" width="18.96" height="38.5" fill="#E23C22"/><rect x="38.03" y="0" width="19.07" height="38.5" fill="#0478B8"/><path d="M21.55 16.82 q-3.4 7.4 7 12.4 q10.4 -5 7 -12.4" fill="none" stroke="#34A04F" stroke-width="1.6" stroke-dasharray="1.6 0.8"/><path d="M23.55 14.42 h10 v6.2 q-0.4 3.6 -5 5 q-4.6 -1.4 -5 -5 z" fill="#fff" stroke="#4A89C7" stroke-width="0.5"/><path d="M23.55 14.42 h10 v2.6 h-10 z" fill="#3E86CE"/><path d="M23.95 21.62 l2 -2.2 l1.6 1.4 l1.6 -2.4 l1.8 2.2 l2 -0.6 l0 2.8 h-9.2 z" fill="#D9382C"/><path d="M24.05 23.22 h9 q-0.8 2.6 -4.5 3.8 q-3.7 -1.2 -4.5 -3.8 z" fill="#4A90D2"/><polygon points="28.55,9.62 29,11 30.45,11 29.28,11.86 29.73,13.24 28.55,12.38 27.37,13.24 27.82,11.86 26.65,11 28.1,11" fill="#fff" stroke="#9AA3AD" stroke-width="0.4"/><rect x="21.15" y="14.02" width="1.2" height="2.6" fill="#E5C64A"/><rect x="34.85" y="17.02" width="1.3" height="2.2" fill="#E5C64A"/></svg>
<text class="hv lab" y="503.25" transform="rotate(0.03 630.25 503.25)"><tspan x="610.46" textLength="39.76" lengthAdjust="spacingAndGlyphs">AL</tspan></text>
<text class="num" y="504.5" stroke="#DCAA59" transform="rotate(0.03 748.1 504.5)"><tspan x="732.05">0</tspan><tspan x="744.67">,</tspan><tspan x="752.08">4</tspan></text>
</g>
<g>
<rect x="694.5" y="528" width="166.75" height="37.1" fill="#DCAA59"/>
<path d="M661.75 546.5 H714.25" stroke="#162C3E" stroke-width="1.25" fill="none"/><circle cx="661.75" cy="546.5" r="2.45" fill="#162C3E"/>
<svg x="549" y="527.5" width="56" height="37.25" viewBox="0 0 56 37.25" overflow="hidden"><rect x="0" y="0" width="56" height="37.25" fill="#F4C90C"/><rect x="0" y="0" width="56" height="2.87" fill="#139B48"/><rect x="0" y="5.73" width="56" height="2.87" fill="#139B48"/><rect x="0" y="11.46" width="56" height="2.87" fill="#139B48"/><rect x="0" y="17.19" width="56" height="2.87" fill="#139B48"/><rect x="0" y="22.92" width="56" height="2.87" fill="#139B48"/><rect x="0" y="28.65" width="56" height="2.87" fill="#139B48"/><rect x="0" y="34.38" width="56" height="2.87" fill="#139B48"/><rect x="0" y="0" width="21.9" height="14.01" fill="#3B2F8F"/><polygon points="10.95,1 12.07,4.46 15.7,4.46 12.76,6.59 13.89,10.05 10.95,7.91 8.01,10.05 9.13,6.59 6.19,4.46 9.83,4.46" fill="#fff"/><path d="M2.2 12.41 h17.5" stroke="#9E98D2" stroke-width="0.8" stroke-dasharray="0.8 0.45"/></svg>
<text class="hv lab" y="555.5" transform="rotate(0.03 635.25 555.5)"><tspan x="619.76" textLength="30.99" lengthAdjust="spacingAndGlyphs">PI</tspan></text>
<text class="num" y="556.75" stroke="#DCAA59" transform="rotate(0.03 748.1 556.75)"><tspan x="732.05">0</tspan><tspan x="744.67">,</tspan><tspan x="752.08">4</tspan></text>
</g>
<g>
<rect x="694.5" y="580.04" width="166.75" height="36.95" fill="#DCAA59"/>
<path d="M661.75 598.47 H714.25" stroke="#162C3E" stroke-width="1.25" fill="none"/><circle cx="661.75" cy="598.47" r="2.45" fill="#162C3E"/>
<svg x="535" y="579.4" width="53.75" height="37.5" viewBox="0 0 53.75 37.5" overflow="hidden"><rect x="0" y="0" width="53.75" height="37.5" fill="#352B73"/><rect x="0" y="18.49" width="53.75" height="19.01" fill="#F8E407"/><polygon points="26.88,5.84 28.81,11.78 35.05,11.78 30,15.45 31.93,21.4 26.88,17.72 21.82,21.4 23.75,15.45 18.7,11.78 24.94,11.78" fill="#fff"/><polygon points="26.88,19.39 0.6,37.5 53.35,37.5" fill="#079B50"/></svg>
<text class="hv lab" y="607.5" transform="rotate(0.03 627.75 607.5)"><tspan x="604.13" textLength="46.47" lengthAdjust="spacingAndGlyphs">RO</tspan></text>
<text class="num" y="608.75" stroke="#DCAA59" transform="rotate(0.03 748.1 608.75)"><tspan x="732.05">0</tspan><tspan x="744.67">,</tspan><tspan x="752.17">3</tspan></text>
</g>
<g>
<rect x="694.5" y="632.08" width="166.75" height="36.95" fill="#DCAA59"/>
<path d="M661.75 650.51 H714.25" stroke="#162C3E" stroke-width="1.25" fill="none"/><circle cx="661.75" cy="650.51" r="2.45" fill="#162C3E"/>
<svg x="544" y="631.5" width="53.1" height="37.5" viewBox="0 0 53.1 37.5" overflow="hidden"><rect x="0" y="0" width="53.1" height="9.38" fill="#089A49"/><rect x="0" y="9.38" width="53.1" height="9.38" fill="#F6C002"/><rect x="0" y="18.75" width="53.1" height="9.38" fill="#089A49"/><rect x="0" y="28.12" width="53.1" height="9.47" fill="#F6C002"/><rect x="0" y="0" width="18.74" height="18.56" fill="#3B1E78"/><polygon points="9.37,5.68 10.18,8.17 12.8,8.17 10.68,9.71 11.49,12.19 9.37,10.66 7.26,12.19 8.06,9.71 5.95,8.17 8.56,8.17" fill="#fff"/><polygon points="3.1,1.3 3.53,2.61 4.91,2.61 3.79,3.42 4.22,4.74 3.1,3.93 1.98,4.74 2.41,3.42 1.29,2.61 2.67,2.61" fill="#E7E3F3"/><polygon points="15.64,1.3 16.07,2.61 17.45,2.61 16.33,3.42 16.76,4.74 15.64,3.93 14.53,4.74 14.95,3.42 13.84,2.61 15.22,2.61" fill="#E7E3F3"/><polygon points="3.1,13.46 3.53,14.78 4.91,14.78 3.79,15.59 4.22,16.9 3.1,16.09 1.98,16.9 2.41,15.59 1.29,14.78 2.67,14.78" fill="#E7E3F3"/><polygon points="15.64,13.46 16.07,14.78 17.45,14.78 16.33,15.59 16.76,16.9 15.64,16.09 14.53,16.9 14.95,15.59 13.84,14.78 15.22,14.78" fill="#E7E3F3"/></svg>
<text class="hv lab" y="659.5" transform="rotate(0.03 631.88 659.5)"><tspan x="613.66" textLength="36.72" lengthAdjust="spacingAndGlyphs">SE</tspan></text>
<text class="num" y="661" stroke="#DCAA59" transform="rotate(0.03 748.1 661)"><tspan x="732.05">0</tspan><tspan x="744.67">,</tspan><tspan x="752.17">3</tspan></text>
</g>
<g>
<rect x="694.5" y="684.12" width="166.5" height="36.95" fill="#DCAA59"/>
<path d="M661.75 702.55 H714.25" stroke="#162C3E" stroke-width="1.25" fill="none"/><circle cx="661.75" cy="702.55" r="2.45" fill="#162C3E"/>
<svg x="537.5" y="683.75" width="54.1" height="37.85" viewBox="0 0 54.1 37.85" overflow="hidden"><rect x="0" y="0" width="54.1" height="37.85" fill="#fff"/><polygon points="0,0 34.35,0 0,23.35" fill="#2D4E9E"/><polygon points="54.1,13.74 54.1,37.85 20.02,37.85" fill="#EE9220"/><polygon points="26.89,8.54 28.45,14.97 34.1,11.52 30.66,17.17 37.09,18.74 30.66,20.3 34.1,25.95 28.45,22.51 26.89,28.94 25.33,22.51 19.68,25.95 23.12,20.3 16.69,18.74 23.12,17.17 19.68,11.52 25.33,14.97" fill="#EE9220"/><polygon points="29.57,12.27 29.96,15.67 33.35,16.06 31.23,18.74 33.35,21.41 29.96,21.8 29.57,25.2 26.89,23.08 24.21,25.2 23.82,21.8 20.42,21.41 22.55,18.74 20.42,16.06 23.82,15.67 24.21,12.27 26.89,14.4" fill="#EE9220"/><circle cx="26.89" cy="18.74" r="4.7" fill="#EE9220"/></svg>
<text class="hv lab" y="711.75" transform="rotate(0.03 628.12 711.75)"><tspan x="606.59" textLength="44.04" lengthAdjust="spacingAndGlyphs">TO</tspan></text>
<text class="num" y="713" stroke="#DCAA59" transform="rotate(0.03 748.1 713)"><tspan x="732.05">0</tspan><tspan x="744.67">,</tspan><tspan x="752.17">3</tspan></text>
</g>
<g>
<rect x="694.5" y="736.16" width="166.25" height="36.95" fill="#DCAA59"/>
<path d="M661.75 754.59 H714.25" stroke="#162C3E" stroke-width="1.25" fill="none"/><circle cx="661.75" cy="754.59" r="2.45" fill="#162C3E"/>
<svg x="537.6" y="735.76" width="53.6" height="37.24" viewBox="0 0 53.6 37.24" overflow="hidden"><rect x="0" y="0" width="53.6" height="37.24" fill="#0FA04A"/><polygon points="2.4,0 53.6,0 53.6,11.9 13.5,11.9" fill="#362B73"/><polygon points="2.4,37.24 53.6,37.24 53.6,25.5 13.5,25.5" fill="#F8E609"/><path d="M-1.6 -1.9 L13.5 11.9 H53.6" fill="none" stroke="#1c1c1c" stroke-width="2.7" stroke-linejoin="miter"/><path d="M-1.6 -1.9 L13.5 11.9 H53.6" fill="none" stroke="#EDEDED" stroke-width="0.95" stroke-linejoin="miter"/><path d="M-1.4 39.0 L13.5 25.5 H53.6" fill="none" stroke="#1c1c1c" stroke-width="2.7" stroke-linejoin="miter"/><path d="M-1.4 39.0 L13.5 25.5 H53.6" fill="none" stroke="#EDEDED" stroke-width="0.95" stroke-linejoin="miter"/><polygon points="8.8,14.26 10.36,17.1 13.2,18.66 10.36,20.22 8.8,23.06 7.24,20.22 4.4,18.66 7.24,17.1" fill="none" stroke="#9AA3AB" stroke-width="0.8"/></svg>
<text class="hv lab" y="763.75" transform="rotate(0.03 627.88 763.75)"><tspan x="606.17" textLength="43.71" lengthAdjust="spacingAndGlyphs">AP</tspan></text>
<text class="num" y="765" stroke="#DCAA59" transform="rotate(0.03 748.1 765)"><tspan x="732.05">0</tspan><tspan x="744.67">,</tspan><tspan x="750.59" textLength="11.71" lengthAdjust="spacingAndGlyphs">1</tspan></text><rect x="751.5" y="762.28" width="4.29" height="3.62" fill="#DCAA59"/><rect x="757.85" y="762.28" width="4.13" height="3.62" fill="#DCAA59"/>
</g>
<g>
<rect x="694.5" y="788.2" width="166.25" height="36.95" fill="#DCAA59"/>
<path d="M661.75 806.63 H714.25" stroke="#162C3E" stroke-width="1.25" fill="none"/><circle cx="661.75" cy="806.63" r="2.45" fill="#162C3E"/>
<svg x="537.5" y="787.1" width="53.75" height="38.3" viewBox="0 0 53.75 38.3" overflow="hidden"><rect x="0" y="0" width="53.75" height="38.3" fill="#069C4F"/><polygon points="0,0 53.75,0 0,38.3" fill="#F8E50C"/><polygon points="7.95,3.22 9.06,6.61 12.62,6.61 9.74,8.7 10.84,12.08 7.95,9.99 5.07,12.08 6.17,8.7 3.29,6.61 6.85,6.61" fill="#E2431F"/></svg>
<text class="hv lab" y="815.75" transform="rotate(0.03 626.25 815.75)"><tspan x="602.38" textLength="47.83" lengthAdjust="spacingAndGlyphs">AC</tspan></text>
<text class="num" y="817" stroke="#DCAA59" transform="rotate(0.03 748.1 817)"><tspan x="732.05">0</tspan><tspan x="744.67">,</tspan><tspan x="750.59" textLength="11.71" lengthAdjust="spacingAndGlyphs">1</tspan></text><rect x="751.5" y="814.28" width="4.29" height="3.62" fill="#DCAA59"/><rect x="757.85" y="814.28" width="4.13" height="3.62" fill="#DCAA59"/>
</g>
<g>
<rect x="694.5" y="840.24" width="166.25" height="36.95" fill="#DCAA59"/>
<path d="M661.75 858.67 H714.25" stroke="#162C3E" stroke-width="1.25" fill="none"/><circle cx="661.75" cy="858.67" r="2.45" fill="#162C3E"/>
<svg x="534" y="839.4" width="57.25" height="38.1" viewBox="0 0 57.25 38.1" overflow="hidden"><rect x="0" y="0" width="57.25" height="38.1" fill="#fff"/><polygon points="0,0 41.62,0 0,27.51" fill="#0498DA"/><polygon points="57.25,9.98 57.25,38.1 15,38.1" fill="#088F3D"/><rect x="0" y="30.67" width="57.25" height="1.8" fill="#E23F2A"/><polygon points="28.91,5.62 32.05,15.29 42.23,15.3 34,21.27 37.14,30.95 28.91,24.97 20.68,30.95 23.82,21.27 15.6,15.3 25.77,15.29" fill="#F4C008"/></svg>
<text class="hv lab" y="867.75" transform="rotate(0.03 629.38 867.75)"><tspan x="607.49" textLength="42.42" lengthAdjust="spacingAndGlyphs">RR</tspan></text>
<text class="num" y="869" stroke="#DCAA59" transform="rotate(0.03 748.1 869)"><tspan x="732.05">0</tspan><tspan x="744.67">,</tspan><tspan x="750.59" textLength="11.71" lengthAdjust="spacingAndGlyphs">1</tspan></text><rect x="751.5" y="866.28" width="4.29" height="3.62" fill="#DCAA59"/><rect x="757.85" y="866.28" width="4.13" height="3.62" fill="#DCAA59"/>
</g>
<g>
<rect x="694.5" y="894.2" width="265.5" height="36.95" fill="#589BE2"/>
<path d="M661.75 912.63 H714.25" stroke="#162C3E" stroke-width="1.25" fill="none"/><circle cx="661.75" cy="912.63" r="2.45" fill="#162C3E"/>
<text class="hv lab" y="922.25" transform="rotate(0.03 601.25 922.25)" style="font-size:31.25px;stroke-width:1.9px"><tspan x="551.55" textLength="99.53" lengthAdjust="spacingAndGlyphs">Brasil</tspan></text>
<text class="num" y="923" stroke="#589BE2" transform="rotate(0.03 748 923)"><tspan x="732.38">4</tspan><tspan x="747.68">4</tspan><tspan x="760.57">,</tspan><tspan x="768.25">0</tspan></text>
</g>
<text class="ftr" y="1007" transform="rotate(0.03 105.05 1007)"><tspan x="26.92" textLength="44.1" lengthAdjust="spacingAndGlyphs">Fonte:</tspan> <tspan x="73.43" textLength="52.47" lengthAdjust="spacingAndGlyphs">Receita</tspan> <tspan x="129.92" textLength="53.03" lengthAdjust="spacingAndGlyphs">Federal</tspan></text>
<text class="ftr" y="1007" transform="rotate(0.03 735.3 1007)"><tspan x="473.36" textLength="70.56" lengthAdjust="spacingAndGlyphs">Copyright</tspan> <tspan x="548.99" textLength="10.02" lengthAdjust="spacingAndGlyphs">©</tspan> <tspan x="562.93" textLength="34.04" lengthAdjust="spacingAndGlyphs">2026</tspan> <tspan x="600.88" textLength="41.99" lengthAdjust="spacingAndGlyphs">Portal</tspan> <tspan x="646.03" textLength="17.77" lengthAdjust="spacingAndGlyphs">da</tspan> <tspan x="668.19" textLength="61.01" lengthAdjust="spacingAndGlyphs">Reforma</tspan> <tspan x="735.75" textLength="69.64" lengthAdjust="spacingAndGlyphs">Tributária,</tspan> <tspan x="809.91" textLength="67.61" lengthAdjust="spacingAndGlyphs">conforme</tspan> <tspan x="882.35" textLength="8.45" lengthAdjust="spacingAndGlyphs">a</tspan> <tspan x="895.54" textLength="18.81" lengthAdjust="spacingAndGlyphs">Lei</tspan> <tspan x="918.99" textLength="12.68" lengthAdjust="spacingAndGlyphs">nº</tspan> <tspan x="937.99" textLength="59.07" lengthAdjust="spacingAndGlyphs">9.610/98</tspan></text>
</svg>
</body>
</html>
